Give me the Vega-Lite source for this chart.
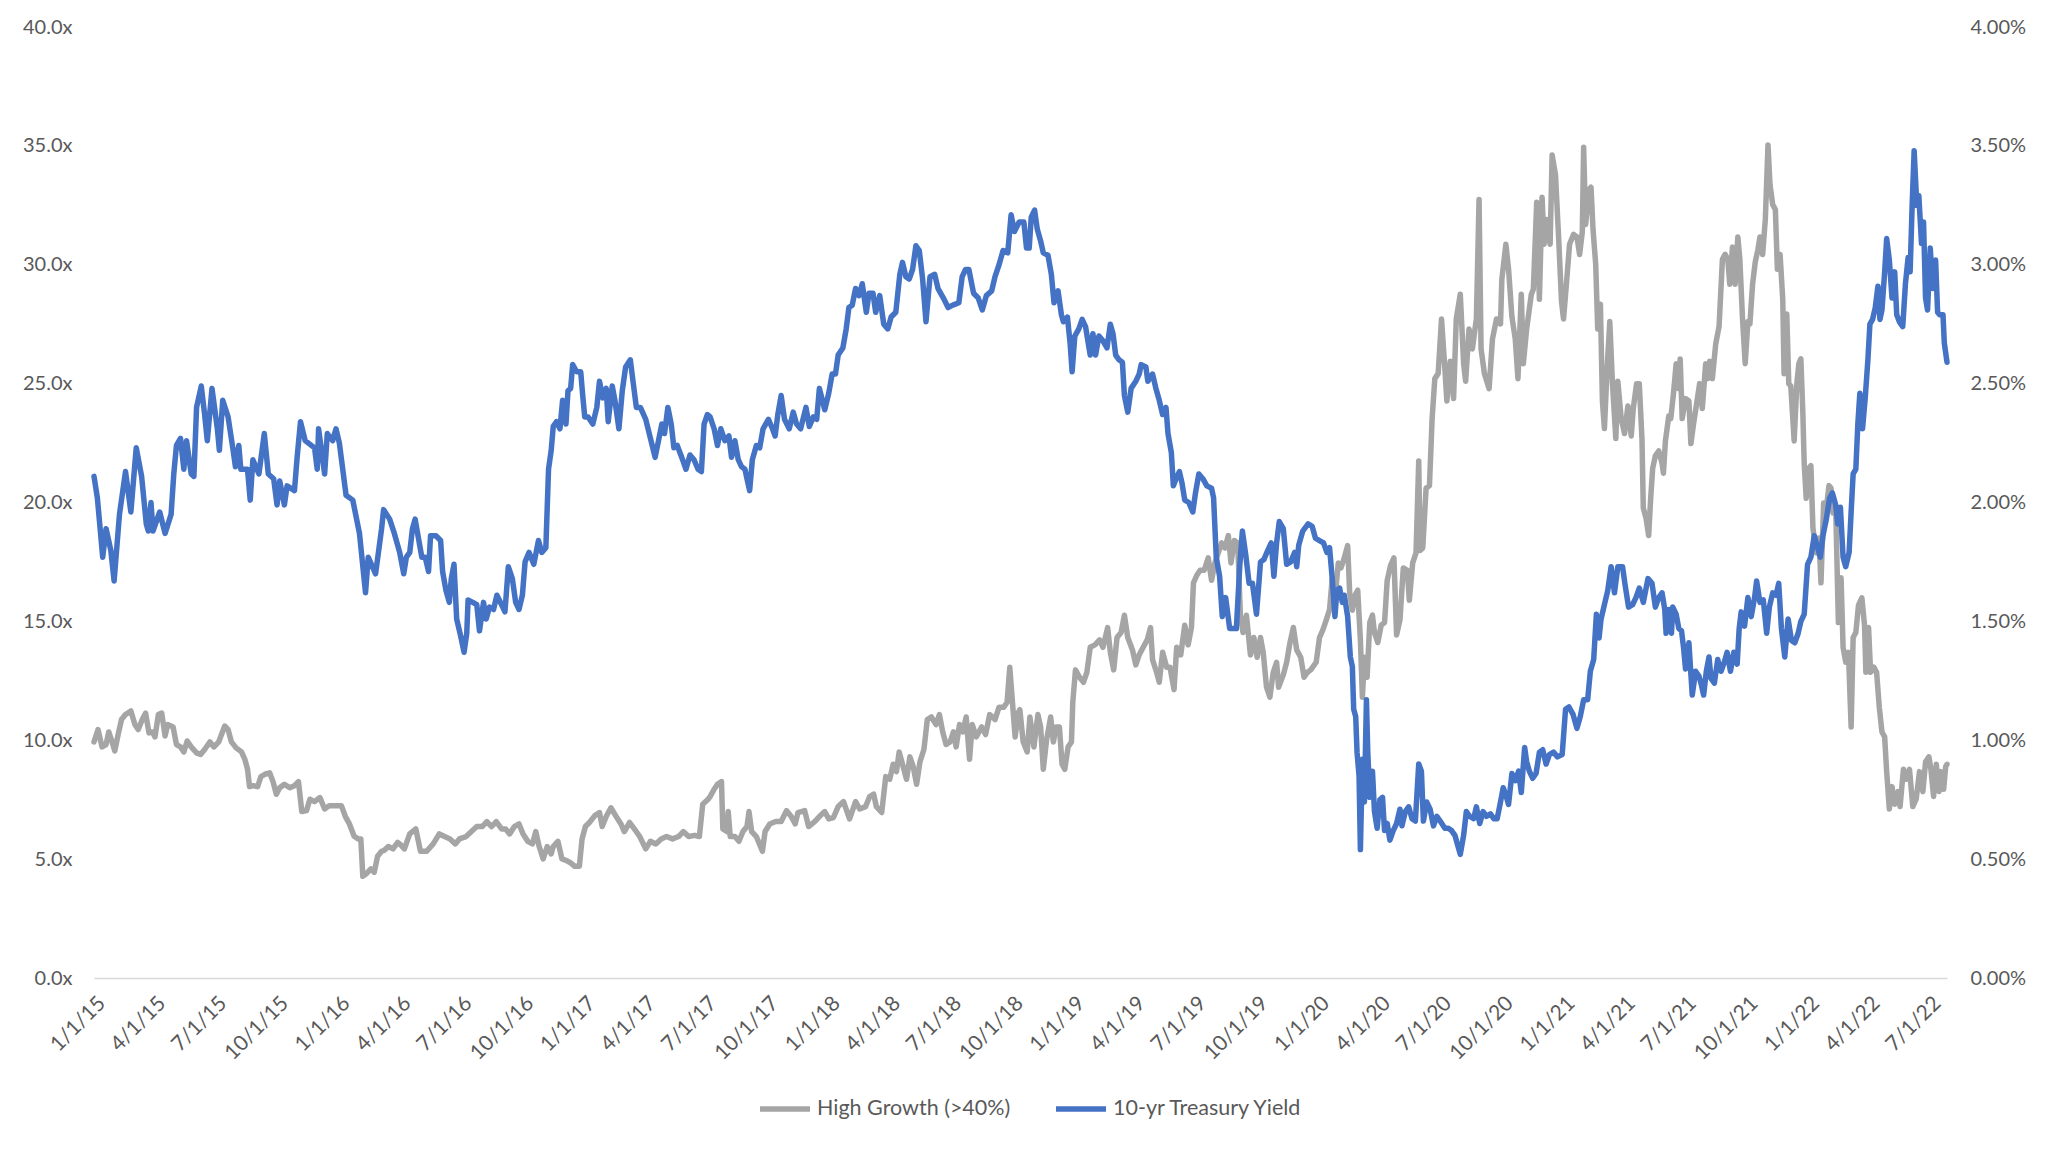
{
"$schema":"https://vega.github.io/schema/vega-lite/v6.json",
"width":1853,"height":951,
"autosize":{"type":"none"},
"padding":{"left":94,"top":27,"right":101,"bottom":172},
"background":"white",
"config":{"view":{"stroke":null},"font":"Lato","axis":{"labelFont":"Lato","labelFontSize":20,"labelColor":"#595959","grid":false,"ticks":false}},
"datasets":{
"growth":[
{"date":"2015-01-01","multiple":9.93},{"date":"2015-01-07","multiple":10.45},{"date":"2015-01-13","multiple":9.72},{"date":"2015-01-19","multiple":9.82},{"date":"2015-01-23","multiple":10.35},{"date":"2015-01-28","multiple":9.93},{"date":"2015-02-01","multiple":9.55},{"date":"2015-02-06","multiple":10.24},{"date":"2015-02-11","multiple":10.87},{"date":"2015-02-17","multiple":11.08},{"date":"2015-02-25","multiple":11.23},{"date":"2015-03-03","multiple":10.66},{"date":"2015-03-08","multiple":10.45},{"date":"2015-03-14","multiple":10.87},{"date":"2015-03-19","multiple":11.14},{"date":"2015-03-24","multiple":10.31},{"date":"2015-03-29","multiple":10.35},{"date":"2015-04-02","multiple":10.14},{"date":"2015-04-07","multiple":11.08},{"date":"2015-04-12","multiple":11.14},{"date":"2015-04-17","multiple":10.18},{"date":"2015-04-21","multiple":10.66},{"date":"2015-04-29","multiple":10.56},{"date":"2015-05-04","multiple":9.82},{"date":"2015-05-10","multiple":9.72},{"date":"2015-05-15","multiple":9.51},{"date":"2015-05-20","multiple":9.97},{"date":"2015-05-26","multiple":9.72},{"date":"2015-06-03","multiple":9.47},{"date":"2015-06-09","multiple":9.40},{"date":"2015-06-15","multiple":9.61},{"date":"2015-06-23","multiple":9.93},{"date":"2015-06-29","multiple":9.72},{"date":"2015-07-06","multiple":9.93},{"date":"2015-07-15","multiple":10.60},{"date":"2015-07-20","multiple":10.45},{"date":"2015-07-25","multiple":9.93},{"date":"2015-08-01","multiple":9.68},{"date":"2015-08-09","multiple":9.51},{"date":"2015-08-14","multiple":9.20},{"date":"2015-08-18","multiple":8.78},{"date":"2015-08-21","multiple":8.05},{"date":"2015-08-26","multiple":8.09},{"date":"2015-09-02","multiple":8.05},{"date":"2015-09-07","multiple":8.47},{"date":"2015-09-13","multiple":8.57},{"date":"2015-09-20","multiple":8.63},{"date":"2015-09-25","multiple":8.26},{"date":"2015-09-30","multiple":7.73},{"date":"2015-10-05","multiple":8.00},{"date":"2015-10-12","multiple":8.15},{"date":"2015-10-20","multiple":8.00},{"date":"2015-10-27","multiple":8.09},{"date":"2015-11-02","multiple":8.26},{"date":"2015-11-07","multiple":7.00},{"date":"2015-11-14","multiple":7.04},{"date":"2015-11-19","multiple":7.52},{"date":"2015-11-26","multiple":7.42},{"date":"2015-12-04","multiple":7.59},{"date":"2015-12-11","multiple":7.11},{"date":"2015-12-18","multiple":7.25},{"date":"2015-12-28","multiple":7.25},{"date":"2016-01-05","multiple":7.25},{"date":"2016-01-11","multiple":6.79},{"date":"2016-01-17","multiple":6.48},{"date":"2016-01-24","multiple":5.96},{"date":"2016-01-30","multiple":5.85},{"date":"2016-02-03","multiple":5.85},{"date":"2016-02-06","multiple":4.28},{"date":"2016-02-11","multiple":4.38},{"date":"2016-02-18","multiple":4.59},{"date":"2016-02-23","multiple":4.45},{"date":"2016-02-28","multiple":5.12},{"date":"2016-03-05","multiple":5.33},{"date":"2016-03-09","multiple":5.37},{"date":"2016-03-15","multiple":5.53},{"date":"2016-03-22","multiple":5.43},{"date":"2016-03-29","multiple":5.70},
{"date":"2016-04-01","multiple":5.64},{"date":"2016-04-08","multiple":5.43},{"date":"2016-04-16","multiple":6.06},{"date":"2016-04-25","multiple":6.27},{"date":"2016-05-02","multiple":5.33},{"date":"2016-05-11","multiple":5.33},{"date":"2016-05-21","multiple":5.64},{"date":"2016-05-30","multiple":6.06},{"date":"2016-06-07","multiple":5.95},{"date":"2016-06-15","multiple":5.85},{"date":"2016-06-23","multiple":5.64},{"date":"2016-06-29","multiple":5.85},{"date":"2016-07-09","multiple":5.95},{"date":"2016-07-17","multiple":6.16},{"date":"2016-07-25","multiple":6.37},{"date":"2016-08-02","multiple":6.37},{"date":"2016-08-09","multiple":6.58},{"date":"2016-08-16","multiple":6.37},{"date":"2016-08-23","multiple":6.58},{"date":"2016-08-31","multiple":6.27},{"date":"2016-09-06","multiple":6.27},{"date":"2016-09-12","multiple":6.06},{"date":"2016-09-19","multiple":6.37},{"date":"2016-09-26","multiple":6.48},{"date":"2016-10-02","multiple":6.06},{"date":"2016-10-09","multiple":5.75},{"date":"2016-10-16","multiple":5.64},{"date":"2016-10-21","multiple":6.16},{"date":"2016-10-26","multiple":5.53},{"date":"2016-11-01","multiple":5.01},{"date":"2016-11-07","multiple":5.53},{"date":"2016-11-13","multiple":5.22},{"date":"2016-11-16","multiple":5.53},{"date":"2016-11-23","multiple":5.75},{"date":"2016-11-29","multiple":5.01},{"date":"2016-12-05","multiple":4.95},{"date":"2016-12-11","multiple":4.86},{"date":"2016-12-18","multiple":4.70},{"date":"2016-12-25","multiple":4.70},{"date":"2016-12-29","multiple":5.85},{"date":"2017-01-03","multiple":6.37},{"date":"2017-01-09","multiple":6.54},{"date":"2017-01-17","multiple":6.83},{"date":"2017-01-24","multiple":6.96},{"date":"2017-01-28","multiple":6.37},{"date":"2017-02-03","multiple":6.79},{"date":"2017-02-10","multiple":7.16},{"date":"2017-02-18","multiple":6.79},{"date":"2017-02-25","multiple":6.48},{"date":"2017-03-02","multiple":6.16},{"date":"2017-03-10","multiple":6.54},{"date":"2017-03-17","multiple":6.27},{"date":"2017-03-25","multiple":5.95},{"date":"2017-04-03","multiple":5.43},{"date":"2017-04-10","multiple":5.75},{"date":"2017-04-18","multiple":5.64},{"date":"2017-04-26","multiple":5.85},{"date":"2017-05-04","multiple":5.95},{"date":"2017-05-13","multiple":5.85},{"date":"2017-05-22","multiple":5.95},{"date":"2017-05-29","multiple":6.16},{"date":"2017-06-06","multiple":5.95},{"date":"2017-06-15","multiple":6.00},{"date":"2017-06-22","multiple":5.95},{"date":"2017-06-27","multiple":7.31},{"date":"2017-07-05","multiple":7.52},
{"date":"2017-07-08","multiple":7.63},{"date":"2017-07-14","multiple":7.94},{"date":"2017-07-19","multiple":8.15},{"date":"2017-07-25","multiple":8.26},{"date":"2017-07-27","multiple":6.27},{"date":"2017-08-02","multiple":6.16},{"date":"2017-08-04","multiple":7.00},{"date":"2017-08-07","multiple":5.95},{"date":"2017-08-14","multiple":5.95},{"date":"2017-08-20","multiple":5.75},{"date":"2017-08-26","multiple":6.16},{"date":"2017-09-01","multiple":6.37},{"date":"2017-09-04","multiple":7.00},{"date":"2017-09-08","multiple":6.16},{"date":"2017-09-15","multiple":5.95},{"date":"2017-09-24","multiple":5.33},{"date":"2017-09-28","multiple":6.16},{"date":"2017-10-05","multiple":6.48},{"date":"2017-10-14","multiple":6.58},{"date":"2017-10-22","multiple":6.58},{"date":"2017-10-30","multiple":7.04},{"date":"2017-11-06","multiple":6.79},{"date":"2017-11-12","multiple":6.48},{"date":"2017-11-16","multiple":6.96},{"date":"2017-11-26","multiple":7.04},{"date":"2017-12-02","multiple":6.37},{"date":"2017-12-11","multiple":6.58},{"date":"2017-12-18","multiple":6.79},{"date":"2017-12-26","multiple":7.00},{"date":"2018-01-01","multiple":6.69},{"date":"2018-01-08","multiple":6.75},{"date":"2018-01-15","multiple":7.21},{"date":"2018-01-23","multiple":7.42},{"date":"2018-02-01","multiple":6.69},{"date":"2018-02-10","multiple":7.42},{"date":"2018-02-16","multiple":7.11},{"date":"2018-02-25","multiple":7.21},{"date":"2018-03-03","multiple":7.63},{"date":"2018-03-09","multiple":7.73},{"date":"2018-03-13","multiple":7.21},{"date":"2018-03-21","multiple":6.96},{"date":"2018-03-27","multiple":8.47},{"date":"2018-04-02","multiple":8.36},{"date":"2018-04-07","multiple":8.99},{"date":"2018-04-12","multiple":8.68},{"date":"2018-04-16","multiple":9.51},{"date":"2018-04-21","multiple":8.99},{"date":"2018-04-27","multiple":8.36},{"date":"2018-05-02","multiple":9.30},{"date":"2018-05-07","multiple":8.89},{"date":"2018-05-12","multiple":8.15},{"date":"2018-05-17","multiple":9.09},{"date":"2018-05-23","multiple":9.62},{"date":"2018-05-28","multiple":10.87},{"date":"2018-06-03","multiple":10.98},{"date":"2018-06-10","multiple":10.66},{"date":"2018-06-15","multiple":11.08},{"date":"2018-06-20","multiple":10.35},{"date":"2018-06-25","multiple":9.82},{"date":"2018-07-01","multiple":9.93},{"date":"2018-07-06","multiple":10.35},{"date":"2018-07-10","multiple":9.72},{"date":"2018-07-15","multiple":10.66},{"date":"2018-07-20","multiple":10.35},{"date":"2018-07-25","multiple":10.98},{"date":"2018-07-30","multiple":9.20},{"date":"2018-08-03","multiple":10.66},{"date":"2018-08-09","multiple":10.14},{"date":"2018-08-17","multiple":10.56},{"date":"2018-08-23","multiple":10.24},{"date":"2018-08-29","multiple":11.08},{"date":"2018-09-06","multiple":10.87},{"date":"2018-09-12","multiple":11.39},{"date":"2018-09-19","multiple":11.39},{"date":"2018-09-24","multiple":11.60},{"date":"2018-09-28","multiple":13.07},{"date":"2018-10-02","multiple":11.60},{"date":"2018-10-06","multiple":10.14},{"date":"2018-10-11","multiple":11.18},
{"date":"2018-10-13","multiple":11.29},{"date":"2018-10-18","multiple":9.93},{"date":"2018-10-24","multiple":9.51},{"date":"2018-10-28","multiple":10.98},{"date":"2018-11-03","multiple":9.72},{"date":"2018-11-09","multiple":11.08},{"date":"2018-11-13","multiple":10.56},{"date":"2018-11-17","multiple":8.78},{"date":"2018-11-22","multiple":10.03},{"date":"2018-11-28","multiple":10.98},{"date":"2018-12-02","multiple":9.93},{"date":"2018-12-06","multiple":10.56},{"date":"2018-12-11","multiple":10.56},{"date":"2018-12-15","multiple":8.99},{"date":"2018-12-19","multiple":8.78},{"date":"2018-12-24","multiple":9.72},{"date":"2018-12-29","multiple":9.93},{"date":"2018-12-31","multiple":11.60},{"date":"2019-01-04","multiple":12.96},{"date":"2019-01-10","multiple":12.65},{"date":"2019-01-16","multiple":12.44},{"date":"2019-01-21","multiple":12.86},{"date":"2019-01-26","multiple":13.91},{"date":"2019-02-02","multiple":14.01},{"date":"2019-02-09","multiple":14.22},{"date":"2019-02-14","multiple":13.91},{"date":"2019-02-21","multiple":14.74},{"date":"2019-02-25","multiple":13.70},{"date":"2019-03-02","multiple":12.96},{"date":"2019-03-07","multiple":14.32},{"date":"2019-03-13","multiple":14.53},{"date":"2019-03-18","multiple":15.26},{"date":"2019-03-23","multiple":14.32},{"date":"2019-03-30","multiple":13.80},{"date":"2019-04-04","multiple":13.17},{"date":"2019-04-09","multiple":13.59},{"date":"2019-04-15","multiple":13.91},{"date":"2019-04-21","multiple":14.22},{"date":"2019-04-26","multiple":14.74},{"date":"2019-04-29","multiple":13.38},{"date":"2019-05-05","multiple":12.86},{"date":"2019-05-09","multiple":12.44},{"date":"2019-05-14","multiple":13.70},{"date":"2019-05-20","multiple":13.07},{"date":"2019-05-25","multiple":13.07},{"date":"2019-05-31","multiple":12.13},{"date":"2019-06-04","multiple":13.91},{"date":"2019-06-10","multiple":13.59},{"date":"2019-06-16","multiple":14.84},{"date":"2019-06-21","multiple":14.01},{"date":"2019-06-26","multiple":14.74},{"date":"2019-06-29","multiple":16.62},{"date":"2019-07-04","multiple":16.94},{"date":"2019-07-09","multiple":17.15},{"date":"2019-07-15","multiple":17.15},{"date":"2019-07-21","multiple":17.67},{"date":"2019-07-26","multiple":16.73},{"date":"2019-07-31","multiple":17.46},{"date":"2019-08-05","multiple":17.88},{"date":"2019-08-10","multiple":18.30},{"date":"2019-08-15","multiple":18.09},{"date":"2019-08-20","multiple":18.61},{"date":"2019-08-24","multiple":17.46},{"date":"2019-08-29","multiple":18.40},{"date":"2019-09-03","multiple":18.30},{"date":"2019-09-07","multiple":15.26},{"date":"2019-09-11","multiple":14.53},{"date":"2019-09-16","multiple":15.26},{"date":"2019-09-22","multiple":13.59},{"date":"2019-09-27","multiple":14.32},{"date":"2019-10-02","multiple":13.49},{"date":"2019-10-07","multiple":14.32},{"date":"2019-10-11","multiple":13.70},{"date":"2019-10-16","multiple":12.23},{"date":"2019-10-21","multiple":11.81},{"date":"2019-10-26","multiple":12.86},{"date":"2019-10-31","multiple":13.28},{"date":"2019-11-03","multiple":12.23},{"date":"2019-11-10","multiple":12.75},{"date":"2019-11-15","multiple":13.28},{"date":"2019-11-20","multiple":14.11},{"date":"2019-11-25","multiple":14.74},{"date":"2019-11-30","multiple":13.80},{"date":"2019-12-06","multiple":13.49},{"date":"2019-12-11","multiple":12.65},{"date":"2019-12-16","multiple":12.86},{"date":"2019-12-21","multiple":12.96},{"date":"2019-12-29","multiple":13.28},{"date":"2020-01-03","multiple":14.32},{"date":"2020-01-08","multiple":14.64},{"date":"2020-01-13","multiple":15.05},
{"date":"2020-01-18","multiple":15.50},{"date":"2020-01-22","multiple":16.83},{"date":"2020-01-27","multiple":16.21},{"date":"2020-01-31","multiple":17.46},{"date":"2020-02-04","multiple":17.25},{"date":"2020-02-09","multiple":17.67},{"date":"2020-02-14","multiple":18.19},{"date":"2020-02-17","multiple":16.21},{"date":"2020-02-21","multiple":15.47},{"date":"2020-02-25","multiple":16.10},{"date":"2020-02-29","multiple":16.31},{"date":"2020-03-04","multiple":14.22},{"date":"2020-03-07","multiple":11.81},{"date":"2020-03-10","multiple":13.49},{"date":"2020-03-14","multiple":12.65},{"date":"2020-03-18","multiple":14.95},{"date":"2020-03-22","multiple":15.26},{"date":"2020-03-25","multiple":14.53},{"date":"2020-03-30","multiple":14.11},{"date":"2020-04-04","multiple":14.84},{"date":"2020-04-09","multiple":14.95},{"date":"2020-04-13","multiple":16.73},{"date":"2020-04-18","multiple":17.36},{"date":"2020-04-23","multiple":17.67},{"date":"2020-04-27","multiple":14.43},{"date":"2020-05-02","multiple":15.06},{"date":"2020-05-07","multiple":17.25},{"date":"2020-05-13","multiple":17.15},{"date":"2020-05-16","multiple":15.89},{"date":"2020-05-21","multiple":17.46},{"date":"2020-05-26","multiple":17.88},{"date":"2020-05-30","multiple":21.75},{"date":"2020-06-01","multiple":17.98},{"date":"2020-06-05","multiple":18.09},{"date":"2020-06-10","multiple":20.60},{"date":"2020-06-15","multiple":20.71},{"date":"2020-06-19","multiple":23.53},{"date":"2020-06-23","multiple":25.21},{"date":"2020-06-28","multiple":25.42},{"date":"2020-07-03","multiple":27.72},{"date":"2020-07-08","multiple":25.63},{"date":"2020-07-11","multiple":24.27},{"date":"2020-07-16","multiple":25.94},{"date":"2020-07-21","multiple":24.37},{"date":"2020-07-25","multiple":27.72},{"date":"2020-07-31","multiple":28.76},{"date":"2020-08-05","multiple":25.84},{"date":"2020-08-08","multiple":25.10},{"date":"2020-08-13","multiple":27.30},{"date":"2020-08-18","multiple":26.46},{"date":"2020-08-24","multiple":27.72},{"date":"2020-08-28","multiple":32.74},{"date":"2020-08-31","multiple":26.46},{"date":"2020-09-05","multiple":25.42},{"date":"2020-09-12","multiple":24.79},{"date":"2020-09-17","multiple":26.88},{"date":"2020-09-23","multiple":27.72},{"date":"2020-09-29","multiple":27.51},{"date":"2020-10-01","multiple":29.39},{"date":"2020-10-07","multiple":30.86},{"date":"2020-10-11","multiple":29.81},{"date":"2020-10-16","multiple":27.82},{"date":"2020-10-21","multiple":26.88},{"date":"2020-10-25","multiple":25.21},{"date":"2020-10-30","multiple":28.76},{"date":"2020-11-02","multiple":25.84},{"date":"2020-11-07","multiple":27.30},{"date":"2020-11-14","multiple":28.76},{"date":"2020-11-17","multiple":28.97},{"date":"2020-11-22","multiple":32.63},{"date":"2020-11-26","multiple":28.55},{"date":"2020-11-30","multiple":32.84},{"date":"2020-12-03","multiple":30.86},{"date":"2020-12-07","multiple":31.90},{"date":"2020-12-12","multiple":30.86},{"date":"2020-12-15","multiple":34.62},{"date":"2020-12-20","multiple":33.79},{"date":"2020-12-25","multiple":30.96},{"date":"2020-12-29","multiple":28.45},{"date":"2021-01-01","multiple":27.72},{"date":"2021-01-05","multiple":29.08},{"date":"2021-01-10","multiple":30.86},{"date":"2021-01-16","multiple":31.28},{"date":"2021-01-21","multiple":31.17},{"date":"2021-01-25","multiple":30.43},{"date":"2021-01-29","multiple":31.38},{"date":"2021-01-31","multiple":34.94},{"date":"2021-02-03","multiple":31.69},{"date":"2021-02-08","multiple":33.16},{"date":"2021-02-11","multiple":33.26},{"date":"2021-02-14","multiple":31.48},{"date":"2021-02-18","multiple":30.02},{"date":"2021-02-21","multiple":27.30},{"date":"2021-02-25","multiple":28.34},{"date":"2021-02-28","multiple":24.27},{"date":"2021-03-03","multiple":23.11},{"date":"2021-03-07","multiple":25.63},{"date":"2021-03-11","multiple":27.61},{"date":"2021-03-15","multiple":25.00},{"date":"2021-03-20","multiple":22.69},{"date":"2021-03-23","multiple":25.10},{"date":"2021-03-28","multiple":23.53},{"date":"2021-04-02","multiple":22.90},{"date":"2021-04-07","multiple":24.06},{"date":"2021-04-12","multiple":22.80},{"date":"2021-04-15","multiple":23.95},{"date":"2021-04-20","multiple":25.00},
{"date":"2021-04-24","multiple":25.00},{"date":"2021-04-28","multiple":22.69},{"date":"2021-04-30","multiple":19.77},{"date":"2021-05-04","multiple":19.35},{"date":"2021-05-08","multiple":18.61},{"date":"2021-05-11","multiple":20.18},{"date":"2021-05-14","multiple":21.44},{"date":"2021-05-18","multiple":21.96},{"date":"2021-05-23","multiple":22.17},{"date":"2021-05-28","multiple":21.65},{"date":"2021-05-30","multiple":21.23},{"date":"2021-06-02","multiple":22.59},{"date":"2021-06-07","multiple":23.64},{"date":"2021-06-10","multiple":23.53},{"date":"2021-06-14","multiple":24.58},{"date":"2021-06-18","multiple":25.84},{"date":"2021-06-22","multiple":24.79},{"date":"2021-06-24","multiple":26.04},{"date":"2021-06-27","multiple":23.53},{"date":"2021-07-02","multiple":24.37},{"date":"2021-07-07","multiple":24.27},{"date":"2021-07-10","multiple":22.48},{"date":"2021-07-14","multiple":23.32},{"date":"2021-07-18","multiple":24.06},{"date":"2021-07-23","multiple":25.00},{"date":"2021-07-27","multiple":23.95},{"date":"2021-08-01","multiple":25.84},{"date":"2021-08-04","multiple":25.21},{"date":"2021-08-07","multiple":25.94},{"date":"2021-08-11","multiple":25.21},{"date":"2021-08-16","multiple":26.67},{"date":"2021-08-21","multiple":27.40},{"date":"2021-08-26","multiple":30.23},{"date":"2021-08-30","multiple":30.44},{"date":"2021-09-03","multiple":30.23},{"date":"2021-09-06","multiple":29.18},{"date":"2021-09-10","multiple":30.75},{"date":"2021-09-14","multiple":29.18},{"date":"2021-09-18","multiple":31.17},{"date":"2021-09-21","multiple":30.23},{"date":"2021-09-25","multiple":27.72},{"date":"2021-09-29","multiple":25.84},{"date":"2021-10-03","multiple":27.61},{"date":"2021-10-06","multiple":27.51},{"date":"2021-10-10","multiple":29.18},{"date":"2021-10-14","multiple":30.12},{"date":"2021-10-18","multiple":30.64},{"date":"2021-10-21","multiple":31.17},{"date":"2021-10-25","multiple":30.43},{"date":"2021-10-29","multiple":31.90},{"date":"2021-11-02","multiple":35.04},{"date":"2021-11-05","multiple":33.37},{"date":"2021-11-09","multiple":32.53},{"date":"2021-11-13","multiple":32.32},{"date":"2021-11-16","multiple":29.81},{"date":"2021-11-20","multiple":30.43},{"date":"2021-11-24","multiple":28.55},{"date":"2021-11-26","multiple":25.42},{"date":"2021-11-30","multiple":27.93},{"date":"2021-12-03","multiple":25.00},{"date":"2021-12-06","multiple":24.90},{"date":"2021-12-09","multiple":23.53},{"date":"2021-12-11","multiple":22.59},{"date":"2021-12-15","multiple":25.00},{"date":"2021-12-18","multiple":25.84},{"date":"2021-12-21","multiple":26.04},{"date":"2021-12-24","multiple":23.74},{"date":"2021-12-26","multiple":21.65},{"date":"2021-12-29","multiple":20.18},{"date":"2022-01-02","multiple":21.44},{"date":"2022-01-05","multiple":21.55},{"date":"2022-01-08","multiple":18.93},{"date":"2022-01-13","multiple":17.88},{"date":"2022-01-17","multiple":18.51},{"date":"2022-01-20","multiple":16.62},{"date":"2022-01-24","multiple":19.98},{"date":"2022-01-28","multiple":19.77},{"date":"2022-02-01","multiple":20.71},{"date":"2022-02-04","multiple":20.60},{"date":"2022-02-07","multiple":19.56},{"date":"2022-02-11","multiple":19.77},{"date":"2022-02-15","multiple":14.95},{"date":"2022-02-19","multiple":16.83},{"date":"2022-02-22","multiple":13.91},{"date":"2022-02-26","multiple":13.28},{"date":"2022-03-02","multiple":13.70},{"date":"2022-03-06","multiple":10.56},{"date":"2022-03-09","multiple":14.32},{"date":"2022-03-13","multiple":14.53},{"date":"2022-03-17","multiple":15.68},{"date":"2022-03-22","multiple":15.99},{"date":"2022-03-26","multiple":14.84},{"date":"2022-03-28","multiple":12.86},{"date":"2022-04-01","multiple":14.74},{"date":"2022-04-04","multiple":12.86},{"date":"2022-04-09","multiple":13.07},{"date":"2022-04-13","multiple":12.86},{"date":"2022-04-17","multiple":11.39},{"date":"2022-04-21","multiple":10.35},{"date":"2022-04-25","multiple":10.14},{"date":"2022-04-28","multiple":8.68},{"date":"2022-05-02","multiple":7.11},{"date":"2022-05-06","multiple":8.05},{"date":"2022-05-10","multiple":7.31},{"date":"2022-05-15","multiple":7.84},{"date":"2022-05-18","multiple":7.21},{"date":"2022-05-23","multiple":8.78},{"date":"2022-05-27","multiple":8.36},{"date":"2022-06-01","multiple":8.78},{"date":"2022-06-06","multiple":7.21},{"date":"2022-06-11","multiple":7.52},{"date":"2022-06-16","multiple":8.68},{"date":"2022-06-21","multiple":7.84},{"date":"2022-06-25","multiple":9.09},{"date":"2022-06-30","multiple":9.30},{"date":"2022-07-03","multiple":8.78},{"date":"2022-07-07","multiple":7.63},{"date":"2022-07-11","multiple":8.99},{"date":"2022-07-15","multiple":7.84},{"date":"2022-07-18","multiple":8.68},{"date":"2022-07-22","multiple":7.94},{"date":"2022-07-25","multiple":8.89},{"date":"2022-07-27","multiple":8.99}
],
"yield":[
{"date":"2015-01-01","yield":2.11},{"date":"2015-01-06","yield":2.02},{"date":"2015-01-14","yield":1.77},{"date":"2015-01-19","yield":1.89},{"date":"2015-01-26","yield":1.80},{"date":"2015-01-31","yield":1.67},{"date":"2015-02-08","yield":1.95},{"date":"2015-02-17","yield":2.13},{"date":"2015-02-25","yield":1.96},{"date":"2015-03-05","yield":2.23},{"date":"2015-03-13","yield":2.11},{"date":"2015-03-20","yield":1.91},{"date":"2015-03-23","yield":1.88},{"date":"2015-03-27","yield":2.00},{"date":"2015-03-30","yield":1.88},{"date":"2015-04-09","yield":1.96},{"date":"2015-04-17","yield":1.87},{"date":"2015-04-26","yield":1.95},{"date":"2015-04-30","yield":2.12},{"date":"2015-05-04","yield":2.24},{"date":"2015-05-10","yield":2.27},{"date":"2015-05-15","yield":2.14},{"date":"2015-05-19","yield":2.26},{"date":"2015-05-26","yield":2.12},{"date":"2015-05-30","yield":2.11},{"date":"2015-06-03","yield":2.40},{"date":"2015-06-10","yield":2.49},{"date":"2015-06-15","yield":2.37},{"date":"2015-06-19","yield":2.26},{"date":"2015-06-26","yield":2.48},{"date":"2015-07-04","yield":2.31},{"date":"2015-07-07","yield":2.22},{"date":"2015-07-12","yield":2.43},{"date":"2015-07-20","yield":2.36},{"date":"2015-07-27","yield":2.23},{"date":"2015-07-31","yield":2.15},{"date":"2015-08-05","yield":2.24},{"date":"2015-08-08","yield":2.14},{"date":"2015-08-18","yield":2.14},{"date":"2015-08-22","yield":2.01},{"date":"2015-08-26","yield":2.18},{"date":"2015-09-04","yield":2.12},{"date":"2015-09-12","yield":2.29},{"date":"2015-09-18","yield":2.12},{"date":"2015-09-26","yield":2.10},{"date":"2015-10-01","yield":1.99},{"date":"2015-10-05","yield":2.09},{"date":"2015-10-12","yield":1.99},{"date":"2015-10-16","yield":2.07},{"date":"2015-10-27","yield":2.05},{"date":"2015-10-31","yield":2.19},{"date":"2015-11-05","yield":2.34},{"date":"2015-11-12","yield":2.26},{"date":"2015-11-26","yield":2.23},{"date":"2015-11-30","yield":2.14},{"date":"2015-12-02","yield":2.31},{"date":"2015-12-11","yield":2.12},{"date":"2015-12-15","yield":2.29},{"date":"2015-12-23","yield":2.26},{"date":"2015-12-28","yield":2.31},{"date":"2016-01-02","yield":2.25},{"date":"2016-01-07","yield":2.14},{"date":"2016-01-12","yield":2.03},{"date":"2016-01-22","yield":2.01},{"date":"2016-02-01","yield":1.87},{"date":"2016-02-10","yield":1.62},{"date":"2016-02-14","yield":1.77},{"date":"2016-02-25","yield":1.70},{"date":"2016-03-05","yield":1.89},{"date":"2016-03-08","yield":1.97},{"date":"2016-03-17","yield":1.93},{"date":"2016-03-24","yield":1.87},
{"date":"2016-04-01","yield":1.79},{"date":"2016-04-07","yield":1.70},{"date":"2016-04-11","yield":1.77},{"date":"2016-04-16","yield":1.79},{"date":"2016-04-20","yield":1.89},{"date":"2016-04-24","yield":1.93},{"date":"2016-04-29","yield":1.85},{"date":"2016-05-04","yield":1.77},{"date":"2016-05-09","yield":1.77},{"date":"2016-05-14","yield":1.71},{"date":"2016-05-17","yield":1.86},{"date":"2016-05-25","yield":1.86},{"date":"2016-06-01","yield":1.84},{"date":"2016-06-04","yield":1.71},{"date":"2016-06-09","yield":1.63},{"date":"2016-06-14","yield":1.58},{"date":"2016-06-17","yield":1.68},{"date":"2016-06-21","yield":1.74},{"date":"2016-06-25","yield":1.51},{"date":"2016-06-30","yield":1.45},{"date":"2016-07-06","yield":1.37},{"date":"2016-07-10","yield":1.45},{"date":"2016-07-12","yield":1.59},{"date":"2016-07-19","yield":1.58},{"date":"2016-07-25","yield":1.57},{"date":"2016-07-29","yield":1.46},{"date":"2016-08-04","yield":1.58},{"date":"2016-08-08","yield":1.51},{"date":"2016-08-13","yield":1.56},{"date":"2016-08-19","yield":1.55},{"date":"2016-08-24","yield":1.61},{"date":"2016-08-31","yield":1.57},{"date":"2016-09-05","yield":1.54},{"date":"2016-09-10","yield":1.73},{"date":"2016-09-16","yield":1.68},{"date":"2016-09-21","yield":1.58},{"date":"2016-09-26","yield":1.55},{"date":"2016-10-01","yield":1.61},{"date":"2016-10-05","yield":1.75},{"date":"2016-10-11","yield":1.79},{"date":"2016-10-18","yield":1.74},{"date":"2016-10-25","yield":1.84},{"date":"2016-10-30","yield":1.79},{"date":"2016-11-05","yield":1.81},{"date":"2016-11-09","yield":2.14},{"date":"2016-11-13","yield":2.22},{"date":"2016-11-16","yield":2.32},{"date":"2016-11-21","yield":2.34},{"date":"2016-11-26","yield":2.31},{"date":"2016-11-30","yield":2.43},{"date":"2016-12-05","yield":2.33},{"date":"2016-12-08","yield":2.47},{"date":"2016-12-12","yield":2.48},{"date":"2016-12-15","yield":2.58},{"date":"2016-12-21","yield":2.55},{"date":"2016-12-27","yield":2.55},{"date":"2016-12-30","yield":2.45},{"date":"2017-01-02","yield":2.36},{"date":"2017-01-07","yield":2.36},{"date":"2017-01-14","yield":2.33},{"date":"2017-01-20","yield":2.40},{"date":"2017-01-24","yield":2.51},{"date":"2017-01-29","yield":2.44},{"date":"2017-02-03","yield":2.48},{"date":"2017-02-06","yield":2.34},{"date":"2017-02-12","yield":2.49},{"date":"2017-02-16","yield":2.43},{"date":"2017-02-22","yield":2.31},{"date":"2017-02-27","yield":2.47},{"date":"2017-03-04","yield":2.57},{"date":"2017-03-11","yield":2.60},{"date":"2017-03-15","yield":2.51},{"date":"2017-03-20","yield":2.40},{"date":"2017-03-26","yield":2.40},{"date":"2017-04-03","yield":2.35},{"date":"2017-04-10","yield":2.27},{"date":"2017-04-17","yield":2.19},{"date":"2017-04-22","yield":2.26},{"date":"2017-04-27","yield":2.33},{"date":"2017-05-01","yield":2.29},{"date":"2017-05-06","yield":2.40},{"date":"2017-05-11","yield":2.33},{"date":"2017-05-15","yield":2.23},{"date":"2017-05-20","yield":2.24},{"date":"2017-05-28","yield":2.18},{"date":"2017-06-02","yield":2.14},{"date":"2017-06-08","yield":2.20},{"date":"2017-06-14","yield":2.18},{"date":"2017-06-20","yield":2.14},{"date":"2017-06-25","yield":2.13},{"date":"2017-06-29","yield":2.33},{"date":"2017-07-04","yield":2.37},
{"date":"2017-07-08","yield":2.36},{"date":"2017-07-14","yield":2.31},{"date":"2017-07-19","yield":2.24},{"date":"2017-07-24","yield":2.31},{"date":"2017-07-30","yield":2.26},{"date":"2017-08-05","yield":2.28},{"date":"2017-08-09","yield":2.19},{"date":"2017-08-14","yield":2.26},{"date":"2017-08-19","yield":2.18},{"date":"2017-08-24","yield":2.15},{"date":"2017-08-29","yield":2.14},{"date":"2017-09-01","yield":2.10},{"date":"2017-09-05","yield":2.05},{"date":"2017-09-09","yield":2.18},{"date":"2017-09-15","yield":2.24},{"date":"2017-09-20","yield":2.23},{"date":"2017-09-25","yield":2.31},{"date":"2017-10-03","yield":2.35},{"date":"2017-10-09","yield":2.31},{"date":"2017-10-13","yield":2.28},{"date":"2017-10-17","yield":2.37},{"date":"2017-10-22","yield":2.45},{"date":"2017-10-27","yield":2.35},{"date":"2017-11-03","yield":2.31},{"date":"2017-11-09","yield":2.38},{"date":"2017-11-14","yield":2.33},{"date":"2017-11-20","yield":2.31},{"date":"2017-11-28","yield":2.40},{"date":"2017-12-03","yield":2.32},{"date":"2017-12-09","yield":2.36},{"date":"2017-12-14","yield":2.35},{"date":"2017-12-18","yield":2.48},{"date":"2017-12-26","yield":2.39},{"date":"2018-01-01","yield":2.46},{"date":"2018-01-06","yield":2.54},{"date":"2018-01-11","yield":2.54},{"date":"2018-01-15","yield":2.62},{"date":"2018-01-22","yield":2.65},{"date":"2018-01-27","yield":2.73},{"date":"2018-01-31","yield":2.82},{"date":"2018-02-05","yield":2.83},{"date":"2018-02-10","yield":2.90},{"date":"2018-02-15","yield":2.87},{"date":"2018-02-20","yield":2.92},{"date":"2018-02-26","yield":2.80},{"date":"2018-03-02","yield":2.88},{"date":"2018-03-08","yield":2.88},{"date":"2018-03-12","yield":2.80},{"date":"2018-03-18","yield":2.87},{"date":"2018-03-24","yield":2.75},{"date":"2018-03-30","yield":2.73},{"date":"2018-04-04","yield":2.78},{"date":"2018-04-11","yield":2.80},{"date":"2018-04-17","yield":2.96},{"date":"2018-04-21","yield":3.01},{"date":"2018-04-26","yield":2.95},{"date":"2018-05-01","yield":2.94},{"date":"2018-05-06","yield":2.98},{"date":"2018-05-11","yield":3.08},{"date":"2018-05-16","yield":3.06},{"date":"2018-05-21","yield":2.94},{"date":"2018-05-26","yield":2.76},{"date":"2018-06-01","yield":2.95},{"date":"2018-06-08","yield":2.96},{"date":"2018-06-13","yield":2.90},{"date":"2018-06-21","yield":2.86},{"date":"2018-06-28","yield":2.82},{"date":"2018-07-05","yield":2.83},{"date":"2018-07-14","yield":2.84},{"date":"2018-07-19","yield":2.95},{"date":"2018-07-24","yield":2.98},{"date":"2018-07-29","yield":2.98},{"date":"2018-08-05","yield":2.88},{"date":"2018-08-12","yield":2.86},{"date":"2018-08-18","yield":2.81},{"date":"2018-08-24","yield":2.87},{"date":"2018-09-01","yield":2.89},{"date":"2018-09-06","yield":2.95},{"date":"2018-09-12","yield":3.00},{"date":"2018-09-18","yield":3.06},{"date":"2018-09-25","yield":3.05},{"date":"2018-09-30","yield":3.21},{"date":"2018-10-05","yield":3.14},{"date":"2018-10-12","yield":3.18},
{"date":"2018-10-19","yield":3.18},{"date":"2018-10-23","yield":3.07},{"date":"2018-10-27","yield":3.07},{"date":"2018-10-30","yield":3.20},{"date":"2018-11-04","yield":3.23},{"date":"2018-11-08","yield":3.15},{"date":"2018-11-13","yield":3.10},{"date":"2018-11-17","yield":3.05},{"date":"2018-11-24","yield":3.04},{"date":"2018-11-29","yield":2.96},{"date":"2018-12-03","yield":2.84},{"date":"2018-12-09","yield":2.89},{"date":"2018-12-14","yield":2.79},{"date":"2018-12-17","yield":2.76},{"date":"2018-12-23","yield":2.78},{"date":"2018-12-27","yield":2.67},{"date":"2018-12-30","yield":2.55},{"date":"2019-01-03","yield":2.70},{"date":"2019-01-09","yield":2.73},{"date":"2019-01-14","yield":2.77},{"date":"2019-01-19","yield":2.74},{"date":"2019-01-26","yield":2.62},{"date":"2019-01-30","yield":2.71},{"date":"2019-02-03","yield":2.62},{"date":"2019-02-08","yield":2.70},{"date":"2019-02-14","yield":2.68},{"date":"2019-02-20","yield":2.65},{"date":"2019-02-25","yield":2.75},{"date":"2019-03-01","yield":2.71},{"date":"2019-03-05","yield":2.62},{"date":"2019-03-10","yield":2.60},{"date":"2019-03-15","yield":2.59},{"date":"2019-03-18","yield":2.45},{"date":"2019-03-23","yield":2.38},{"date":"2019-03-28","yield":2.48},{"date":"2019-04-04","yield":2.51},{"date":"2019-04-09","yield":2.54},{"date":"2019-04-12","yield":2.58},{"date":"2019-04-19","yield":2.57},{"date":"2019-04-22","yield":2.51},{"date":"2019-04-29","yield":2.54},{"date":"2019-05-04","yield":2.48},{"date":"2019-05-09","yield":2.43},{"date":"2019-05-14","yield":2.37},{"date":"2019-05-19","yield":2.40},{"date":"2019-05-22","yield":2.29},{"date":"2019-05-27","yield":2.21},{"date":"2019-05-30","yield":2.07},{"date":"2019-06-03","yield":2.10},{"date":"2019-06-08","yield":2.13},{"date":"2019-06-12","yield":2.08},{"date":"2019-06-16","yield":2.01},{"date":"2019-06-22","yield":2.00},{"date":"2019-06-28","yield":1.96},{"date":"2019-07-02","yield":2.04},{"date":"2019-07-07","yield":2.12},{"date":"2019-07-13","yield":2.10},{"date":"2019-07-19","yield":2.07},{"date":"2019-07-26","yield":2.06},{"date":"2019-07-29","yield":2.02},{"date":"2019-08-02","yield":1.77},{"date":"2019-08-07","yield":1.69},{"date":"2019-08-11","yield":1.52},{"date":"2019-08-16","yield":1.60},{"date":"2019-08-22","yield":1.47},{"date":"2019-08-27","yield":1.47},{"date":"2019-09-01","yield":1.47},{"date":"2019-09-06","yield":1.73},{"date":"2019-09-10","yield":1.88},{"date":"2019-09-15","yield":1.78},{"date":"2019-09-20","yield":1.66},{"date":"2019-09-25","yield":1.66},{"date":"2019-10-01","yield":1.53},{"date":"2019-10-07","yield":1.75},{"date":"2019-10-12","yield":1.76},{"date":"2019-10-18","yield":1.80},{"date":"2019-10-23","yield":1.83},{"date":"2019-10-27","yield":1.69},{"date":"2019-10-31","yield":1.83},{"date":"2019-11-04","yield":1.92},{"date":"2019-11-10","yield":1.89},{"date":"2019-11-15","yield":1.74},{"date":"2019-11-21","yield":1.75},{"date":"2019-11-27","yield":1.79},{"date":"2019-11-30","yield":1.73},{"date":"2019-12-03","yield":1.82},{"date":"2019-12-09","yield":1.88},{"date":"2019-12-17","yield":1.91},{"date":"2019-12-23","yield":1.90},{"date":"2019-12-28","yield":1.85},{"date":"2020-01-03","yield":1.84},{"date":"2020-01-09","yield":1.83},{"date":"2020-01-14","yield":1.79},
{"date":"2020-01-18","yield":1.81},{"date":"2020-01-22","yield":1.68},{"date":"2020-01-26","yield":1.52},{"date":"2020-01-29","yield":1.63},{"date":"2020-02-02","yield":1.64},{"date":"2020-02-06","yield":1.58},{"date":"2020-02-09","yield":1.61},{"date":"2020-02-14","yield":1.52},{"date":"2020-02-18","yield":1.35},{"date":"2020-02-21","yield":1.31},{"date":"2020-02-23","yield":1.13},{"date":"2020-02-26","yield":1.10},{"date":"2020-02-28","yield":0.95},{"date":"2020-03-02","yield":0.85},{"date":"2020-03-04","yield":0.54},{"date":"2020-03-07","yield":0.92},{"date":"2020-03-10","yield":0.74},{"date":"2020-03-13","yield":1.17},{"date":"2020-03-15","yield":0.95},{"date":"2020-03-18","yield":0.76},{"date":"2020-03-22","yield":0.87},{"date":"2020-03-25","yield":0.70},{"date":"2020-03-29","yield":0.63},{"date":"2020-04-02","yield":0.75},{"date":"2020-04-06","yield":0.76},{"date":"2020-04-09","yield":0.62},{"date":"2020-04-13","yield":0.65},{"date":"2020-04-17","yield":0.58},{"date":"2020-04-22","yield":0.62},{"date":"2020-04-27","yield":0.65},{"date":"2020-05-02","yield":0.71},{"date":"2020-05-05","yield":0.64},{"date":"2020-05-10","yield":0.70},{"date":"2020-05-15","yield":0.72},{"date":"2020-05-20","yield":0.67},{"date":"2020-05-25","yield":0.66},{"date":"2020-05-30","yield":0.90},{"date":"2020-06-03","yield":0.87},{"date":"2020-06-06","yield":0.66},{"date":"2020-06-11","yield":0.74},{"date":"2020-06-16","yield":0.71},{"date":"2020-06-21","yield":0.64},{"date":"2020-06-26","yield":0.68},{"date":"2020-07-01","yield":0.66},{"date":"2020-07-08","yield":0.63},{"date":"2020-07-13","yield":0.63},{"date":"2020-07-18","yield":0.62},{"date":"2020-07-23","yield":0.60},{"date":"2020-07-28","yield":0.55},{"date":"2020-07-31","yield":0.52},{"date":"2020-08-05","yield":0.60},{"date":"2020-08-09","yield":0.70},{"date":"2020-08-14","yield":0.68},{"date":"2020-08-20","yield":0.67},{"date":"2020-08-24","yield":0.72},{"date":"2020-08-29","yield":0.65},{"date":"2020-09-03","yield":0.70},{"date":"2020-09-08","yield":0.68},{"date":"2020-09-14","yield":0.69},{"date":"2020-09-19","yield":0.67},{"date":"2020-09-24","yield":0.67},{"date":"2020-09-29","yield":0.74},{"date":"2020-10-03","yield":0.80},{"date":"2020-10-07","yield":0.77},{"date":"2020-10-11","yield":0.73},{"date":"2020-10-16","yield":0.86},{"date":"2020-10-21","yield":0.83},{"date":"2020-10-26","yield":0.87},{"date":"2020-10-30","yield":0.78},{"date":"2020-11-04","yield":0.97},{"date":"2020-11-07","yield":0.91},{"date":"2020-11-11","yield":0.87},{"date":"2020-11-16","yield":0.84},{"date":"2020-11-21","yield":0.86},{"date":"2020-11-26","yield":0.95},{"date":"2020-12-01","yield":0.96},{"date":"2020-12-06","yield":0.90},{"date":"2020-12-11","yield":0.94},{"date":"2020-12-17","yield":0.95},{"date":"2020-12-23","yield":0.93},{"date":"2020-12-30","yield":0.94},{"date":"2021-01-04","yield":1.13},{"date":"2021-01-09","yield":1.14},{"date":"2021-01-15","yield":1.11},{"date":"2021-01-21","yield":1.05},{"date":"2021-01-26","yield":1.10},{"date":"2021-01-31","yield":1.17},{"date":"2021-02-06","yield":1.17},{"date":"2021-02-10","yield":1.29},{"date":"2021-02-15","yield":1.34},{"date":"2021-02-19","yield":1.53},{"date":"2021-02-23","yield":1.43},{"date":"2021-02-26","yield":1.51},{"date":"2021-03-03","yield":1.57},{"date":"2021-03-08","yield":1.63},{"date":"2021-03-13","yield":1.73},{"date":"2021-03-18","yield":1.62},{"date":"2021-03-23","yield":1.73},{"date":"2021-03-30","yield":1.73},{"date":"2021-04-03","yield":1.65},{"date":"2021-04-08","yield":1.56},{"date":"2021-04-14","yield":1.57},{"date":"2021-04-19","yield":1.60},
{"date":"2021-04-24","yield":1.64},{"date":"2021-04-30","yield":1.58},{"date":"2021-05-07","yield":1.68},{"date":"2021-05-13","yield":1.66},{"date":"2021-05-18","yield":1.56},{"date":"2021-05-23","yield":1.60},{"date":"2021-05-28","yield":1.62},{"date":"2021-06-01","yield":1.55},{"date":"2021-06-03","yield":1.45},{"date":"2021-06-07","yield":1.55},{"date":"2021-06-11","yield":1.45},{"date":"2021-06-13","yield":1.56},{"date":"2021-06-18","yield":1.53},{"date":"2021-06-22","yield":1.47},{"date":"2021-06-26","yield":1.46},{"date":"2021-06-29","yield":1.39},{"date":"2021-07-02","yield":1.30},{"date":"2021-07-07","yield":1.41},{"date":"2021-07-12","yield":1.19},{"date":"2021-07-17","yield":1.29},{"date":"2021-07-22","yield":1.27},{"date":"2021-07-25","yield":1.24},{"date":"2021-07-29","yield":1.19},{"date":"2021-08-02","yield":1.29},{"date":"2021-08-06","yield":1.35},{"date":"2021-08-09","yield":1.26},{"date":"2021-08-14","yield":1.24},{"date":"2021-08-19","yield":1.34},{"date":"2021-08-24","yield":1.29},{"date":"2021-08-29","yield":1.33},{"date":"2021-09-02","yield":1.37},{"date":"2021-09-07","yield":1.29},{"date":"2021-09-12","yield":1.37},{"date":"2021-09-17","yield":1.32},{"date":"2021-09-20","yield":1.47},{"date":"2021-09-23","yield":1.54},{"date":"2021-09-28","yield":1.48},{"date":"2021-10-03","yield":1.60},{"date":"2021-10-08","yield":1.52},{"date":"2021-10-13","yield":1.60},{"date":"2021-10-16","yield":1.67},{"date":"2021-10-21","yield":1.58},{"date":"2021-10-26","yield":1.59},{"date":"2021-10-31","yield":1.45},{"date":"2021-11-04","yield":1.56},{"date":"2021-11-09","yield":1.62},{"date":"2021-11-14","yield":1.61},{"date":"2021-11-18","yield":1.66},{"date":"2021-11-22","yield":1.47},{"date":"2021-11-27","yield":1.35},{"date":"2021-12-02","yield":1.51},{"date":"2021-12-07","yield":1.42},{"date":"2021-12-12","yield":1.41},{"date":"2021-12-17","yield":1.45},{"date":"2021-12-21","yield":1.50},{"date":"2021-12-26","yield":1.53},{"date":"2021-12-31","yield":1.74},{"date":"2022-01-05","yield":1.77},{"date":"2022-01-10","yield":1.86},{"date":"2022-01-15","yield":1.81},{"date":"2022-01-19","yield":1.77},{"date":"2022-01-23","yield":1.86},{"date":"2022-01-28","yield":1.93},{"date":"2022-02-02","yield":2.02},{"date":"2022-02-06","yield":2.04},{"date":"2022-02-11","yield":1.99},{"date":"2022-02-14","yield":1.91},{"date":"2022-02-18","yield":1.98},{"date":"2022-02-22","yield":1.77},{"date":"2022-02-26","yield":1.73},{"date":"2022-03-03","yield":1.79},{"date":"2022-03-06","yield":1.96},{"date":"2022-03-09","yield":2.12},{"date":"2022-03-13","yield":2.14},{"date":"2022-03-16","yield":2.33},{"date":"2022-03-19","yield":2.46},{"date":"2022-03-23","yield":2.31},{"date":"2022-03-27","yield":2.44},{"date":"2022-03-31","yield":2.60},{"date":"2022-04-03","yield":2.75},{"date":"2022-04-07","yield":2.77},{"date":"2022-04-11","yield":2.82},{"date":"2022-04-15","yield":2.91},{"date":"2022-04-18","yield":2.77},{"date":"2022-04-21","yield":2.81},{"date":"2022-04-25","yield":2.97},{"date":"2022-04-28","yield":3.11},{"date":"2022-05-02","yield":3.02},{"date":"2022-05-06","yield":2.86},{"date":"2022-05-10","yield":2.97},{"date":"2022-05-13","yield":2.79},{"date":"2022-05-17","yield":2.76},{"date":"2022-05-22","yield":2.74},{"date":"2022-05-26","yield":2.92},{"date":"2022-05-30","yield":3.03},{"date":"2022-06-02","yield":2.97},{"date":"2022-06-05","yield":3.25},{"date":"2022-06-08","yield":3.48},{"date":"2022-06-12","yield":3.25},{"date":"2022-06-15","yield":3.29},{"date":"2022-06-19","yield":3.09},{"date":"2022-06-22","yield":3.18},{"date":"2022-06-25","yield":2.86},{"date":"2022-06-28","yield":2.81},{"date":"2022-07-02","yield":3.07},{"date":"2022-07-06","yield":2.90},{"date":"2022-07-10","yield":3.02},{"date":"2022-07-13","yield":2.80},{"date":"2022-07-16","yield":2.79},{"date":"2022-07-21","yield":2.79},{"date":"2022-07-23","yield":2.67},{"date":"2022-07-27","yield":2.59}
]
},
"layer":[
{"data":{"name":"growth"},
 "mark":{"type":"line","strokeWidth":5.5,"strokeJoin":"round","strokeCap":"round"},
 "encoding":{
  "x":{"field":"date","type":"temporal",
   "scale":{"type":"utc","domain":[{"year":2015,"month":1,"date":1,"utc":true},{"year":2022,"month":7,"date":27,"utc":true}]},
   "axis":{"title":null,"labelExpr":"utcFormat(datum.value, '%-m/%-d/%y')","labelAngle":-45,"labelAlign":"right","labelBaseline":"top","labelPadding":14,"labelOverlap":false,"labelFontSize":21,"domain":true,"domainColor":"#D9D9D9","domainWidth":1.5,"ticks":false,"grid":false,
    "values":[{"year":2015,"month":1,"date":1,"utc":true},{"year":2015,"month":4,"date":1,"utc":true},{"year":2015,"month":7,"date":1,"utc":true},{"year":2015,"month":10,"date":1,"utc":true},{"year":2016,"month":1,"date":1,"utc":true},{"year":2016,"month":4,"date":1,"utc":true},{"year":2016,"month":7,"date":1,"utc":true},{"year":2016,"month":10,"date":1,"utc":true},{"year":2017,"month":1,"date":1,"utc":true},{"year":2017,"month":4,"date":1,"utc":true},{"year":2017,"month":7,"date":1,"utc":true},{"year":2017,"month":10,"date":1,"utc":true},{"year":2018,"month":1,"date":1,"utc":true},{"year":2018,"month":4,"date":1,"utc":true},{"year":2018,"month":7,"date":1,"utc":true},{"year":2018,"month":10,"date":1,"utc":true},{"year":2019,"month":1,"date":1,"utc":true},{"year":2019,"month":4,"date":1,"utc":true},{"year":2019,"month":7,"date":1,"utc":true},{"year":2019,"month":10,"date":1,"utc":true},{"year":2020,"month":1,"date":1,"utc":true},{"year":2020,"month":4,"date":1,"utc":true},{"year":2020,"month":7,"date":1,"utc":true},{"year":2020,"month":10,"date":1,"utc":true},{"year":2021,"month":1,"date":1,"utc":true},{"year":2021,"month":4,"date":1,"utc":true},{"year":2021,"month":7,"date":1,"utc":true},{"year":2021,"month":10,"date":1,"utc":true},{"year":2022,"month":1,"date":1,"utc":true},{"year":2022,"month":4,"date":1,"utc":true},{"year":2022,"month":7,"date":1,"utc":true}]}},
  "y":{"field":"multiple","type":"quantitative","scale":{"domain":[0,40],"nice":false,"zero":true},
   "axis":{"title":null,"values":[0,5,10,15,20,25,30,35,40],"labelExpr":"format(datum.value, '.1f') + 'x'","domain":false,"ticks":false,"grid":false,"labelPadding":22,"labelFontSize":20}},
  "color":{"datum":"High Growth (>40%)","type":"nominal",
   "scale":{"domain":["High Growth (>40%)","10-yr Treasury Yield"],"range":["#A5A5A5","#4472C4"]},
   "legend":{"title":null,"orient":"none","legendX":663,"legendY":1054,"direction":"horizontal","symbolType":"stroke","symbolSize":2500,"symbolStrokeWidth":5.5,"labelFontSize":21.5,"labelColor":"#595959","labelFont":"Lato","labelLimit":0,"columnPadding":34,"labelOffset":4}}
 }},
{"data":{"name":"yield"},
 "mark":{"type":"line","strokeWidth":5.5,"strokeJoin":"round","strokeCap":"round"},
 "encoding":{
  "x":{"field":"date","type":"temporal"},
  "y":{"field":"yield","type":"quantitative","scale":{"domain":[0,4],"nice":false,"zero":true},
   "axis":{"title":null,"orient":"right","values":[0,0.5,1,1.5,2,2.5,3,3.5,4],"labelExpr":"format(datum.value, '.2f') + '%'","domain":false,"ticks":false,"grid":false,"labelPadding":23,"labelFontSize":20}},
  "color":{"datum":"10-yr Treasury Yield","type":"nominal"}
 }}
],
"resolve":{"scale":{"y":"independent"}}
}
